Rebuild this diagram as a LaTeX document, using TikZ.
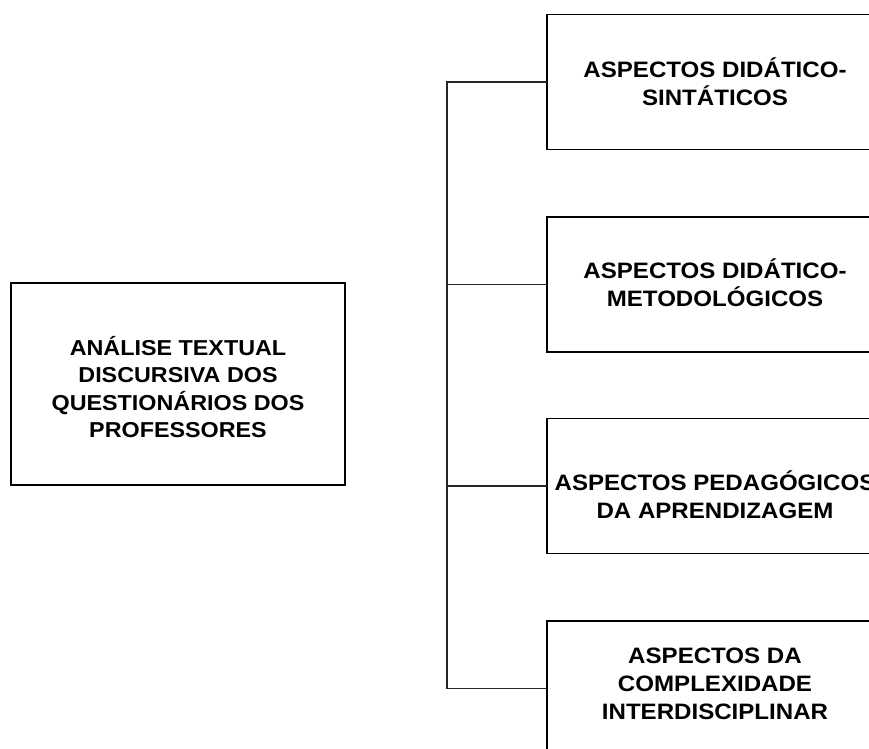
\documentclass[tikz,border=0pt]{standalone}
\usepackage{fontspec}
\setmainfont{Liberation Sans}[FakeStretch=1.08]
\begin{document}
\begin{tikzpicture}[x=1pt,y=-1pt,
  frame/.style={draw=black, line width=1.2pt, inner sep=0pt, outer sep=0pt},
  leftbox/.style={frame, minimum width=334pt, minimum height=202pt},
  topicbox/.style={frame, minimum width=336pt, minimum height=135pt},
  caption/.style={align=center, inner sep=0pt,
    font=\fontsize{22.3}{28}\selectfont\bfseries},
  maincaption/.style={caption, font=\fontsize{21.6}{27.5}\selectfont\bfseries},
  link/.style={draw=black!85, line width=1.2pt}
]
  \useasboundingbox (0,0) rectangle (869,748);
  \clip (0,0) rectangle (869,748);

  % central theme
  \node[leftbox, label={[maincaption, yshift=-3pt]center:{ANÁLISE TEXTUAL\\DISCURSIVA DOS\\QUESTIONÁRIOS DOS\\PROFESSORES}}]
    (root) at (178,384) {};

  % the four aspects
  \node[topicbox, label={[caption]center:{ASPECTOS DIDÁTICO-\\SINTÁTICOS}}]
    (a1) at (715,82) {};
  \node[topicbox, label={[caption, yshift=2pt]center:{ASPECTOS DIDÁTICO-\\METODOLÓGICOS}}]
    (a2) at (715,284.5) {};
  \node[topicbox, label={[caption, yshift=-9pt]center:{ASPECTOS PEDAGÓGICOS\\DA APRENDIZAGEM}}]
    (a3) at (715,486) {};
  \node[topicbox, label={[caption, yshift=5pt]center:{ASPECTOS DA\\COMPLEXIDADE\\INTERDISCIPLINAR}}]
    (a4) at (715,688.5) {};

  % bracket joining the aspects
  \coordinate (trunk) at (447,0);
  \draw[link] (a1.west) -- (a1.west -| trunk) -- (a4.west -| trunk) -- (a4.west);
  \draw[link] (a2.west) -- (a2.west -| trunk);
  \draw[link] (a3.west) -- (a3.west -| trunk);
\end{tikzpicture}
\end{document}
